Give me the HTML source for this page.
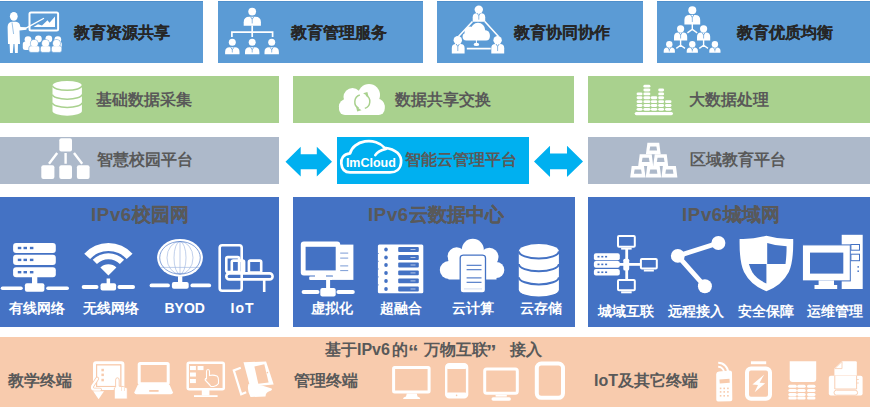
<!DOCTYPE html>
<html><head><meta charset="utf-8">
<style>
html,body{margin:0;padding:0;background:#fff;}
body{width:871px;height:408px;position:relative;overflow:hidden;font-family:"Liberation Sans",sans-serif;}
.b{position:absolute;}
.t{position:absolute;white-space:nowrap;font-weight:bold;line-height:1;-webkit-text-stroke:0.1px currentColor;}
.r1{background:#5B9BD5;top:1px;height:62px;border-top:1px solid #4F8FCB;box-sizing:border-box;}
.r2{background:#A9D18E;top:76px;height:46.5px;}
.r3{background:#ADB9CA;top:137px;height:46.5px;}
.r4{background:#4472C4;top:197px;height:130px;}
.r5{background:#F8CBAD;top:337px;height:70px;}
.k{color:#262626;font-size:16px;}
.g{color:#595959;font-size:16px;-webkit-text-stroke:0;}
.w{color:#fff;font-size:13.6px;-webkit-text-stroke:0;}
.h{color:#595959;font-size:18.5px;}
svg{position:absolute;left:0;top:0;}
</style></head><body>
<div class="b r1" style="left:0;width:203px"></div>
<div class="b r1" style="left:218px;width:205px"></div>
<div class="b r1" style="left:437px;width:206px"></div>
<div class="b r1" style="left:657px;width:213px"></div>
<div class="b r2" style="left:0;width:279px"></div>
<div class="b r2" style="left:293px;width:281px"></div>
<div class="b r2" style="left:588px;width:282px"></div>
<div class="b r3" style="left:0;width:279px"></div>
<div class="b" style="left:336.5px;top:137px;width:192px;height:46.5px;background:#00B0F0"></div>
<div class="b r3" style="left:588px;width:282px"></div>
<div class="b r4" style="left:0;width:279px"></div>
<div class="b r4" style="left:293px;width:282px"></div>
<div class="b r4" style="left:588px;width:282px"></div>
<div class="b r5" style="left:0;width:870px"></div>
<svg width="871" height="408" viewBox="0 0 871 408">
<ellipse cx="13.8" cy="16.3" rx="3.9" ry="4.4" fill="#fff"/>
<path d="M8,44 L7.6,27 Q7.8,22 12,21.8 L16,21.8 Q19.6,22.2 20,25.5 L20.5,27 L26.5,27.2 L26.5,29.8 L19.5,30.5 L20,44 Z" fill="#fff"/>
<path d="M9.6,43 L10,53 L12.8,53 L13.6,43 Z M14.4,43 L15,53 L17.8,53 L18,43 Z" fill="#fff"/>
<line x1="12" y1="22.5" x2="13.6" y2="34" stroke="#5B9BD5" stroke-width="0.6"/>
<line x1="26.5" y1="27.8" x2="43.5" y2="18.5" stroke="#fff" stroke-width="1.4" stroke-linecap="round"/>
<rect x="29.5" y="12.6" width="28.6" height="18" rx="1.5" fill="none" stroke="#fff" stroke-width="2"/>
<path d="M33.5,27 L38,24.2 L42,25.6 L47.5,20.2 L49.5,22.8 L55,16.5 L55,27 Z" fill="#fff"/>
<circle cx="28" cy="39.6" r="3.4" fill="#fff"/>
<circle cx="38.4" cy="39" r="3.4" fill="#fff"/>
<circle cx="48.8" cy="39" r="3.4" fill="#fff"/>
<circle cx="57.8" cy="39.6" r="3.4" fill="#fff"/>
<rect x="22.8" y="41.5" width="8.5" height="8.5" rx="2.5" fill="#fff"/>
<rect x="53.6" y="41.5" width="8.2" height="8.5" rx="2.5" fill="#fff"/>
<circle cx="34.3" cy="43.4" r="3.9" fill="#fff" stroke="#5B9BD5" stroke-width="0.6"/>
<rect x="28.8" y="45.8" width="10.999999999999996" height="6.6" rx="2.2" fill="#fff" stroke="#5B9BD5" stroke-width="0.6"/>
<circle cx="34.3" cy="43.4" r="3.3" fill="#fff"/>
<circle cx="45.55" cy="43.4" r="3.9" fill="#fff" stroke="#5B9BD5" stroke-width="0.6"/>
<rect x="40.3" y="45.8" width="10.5" height="6.6" rx="2.2" fill="#fff" stroke="#5B9BD5" stroke-width="0.6"/>
<circle cx="45.55" cy="43.4" r="3.3" fill="#fff"/>
<circle cx="56.55" cy="43.4" r="3.9" fill="#fff" stroke="#5B9BD5" stroke-width="0.6"/>
<rect x="51.3" y="45.8" width="10.5" height="6.6" rx="2.2" fill="#fff" stroke="#5B9BD5" stroke-width="0.6"/>
<circle cx="56.55" cy="43.4" r="3.3" fill="#fff"/>
<circle cx="252.2" cy="11.6" r="3.9" fill="#fff"/>
<path d="M243.7,25.7 L243.7,22.304 Q243.7,16.8 249.20399999999998,16.8 L255.396,16.8 Q260.9,16.8 260.9,22.304 L260.9,25.7 Z" fill="#fff"/>
<path d="M250.6,16.8 L252.2,19.2 L253.79999999999998,16.8" fill="none" stroke="#5B9BD5" stroke-width="0.8"/>
<line x1="252.2" y1="19.2" x2="252.2" y2="23.475" stroke="#5B9BD5" stroke-width="0.7"/>
<path d="M252.2,25.5 V37 M231.9,37 V32.2 H272.6 V37" fill="none" stroke="#fff" stroke-width="1.7"/>
<circle cx="232.3" cy="42.3" r="3.5" fill="#fff"/>
<path d="M225.10000000000002,54.2 L225.10000000000002,51.90799999999999 Q225.10000000000002,47.3 229.70800000000003,47.3 L234.892,47.3 Q239.5,47.3 239.5,51.90799999999999 L239.5,54.2 Z" fill="#fff"/>
<path d="M230.70000000000002,47.3 L232.3,49.699999999999996 L233.9,47.3" fill="none" stroke="#5B9BD5" stroke-width="0.8"/>
<line x1="232.3" y1="49.699999999999996" x2="232.3" y2="52.475" stroke="#5B9BD5" stroke-width="0.7"/>
<circle cx="252.2" cy="42.3" r="3.5" fill="#fff"/>
<path d="M245.0,54.2 L245.0,51.90799999999999 Q245.0,47.3 249.608,47.3 L254.79199999999997,47.3 Q259.4,47.3 259.4,51.90799999999999 L259.4,54.2 Z" fill="#fff"/>
<path d="M250.6,47.3 L252.2,49.699999999999996 L253.79999999999998,47.3" fill="none" stroke="#5B9BD5" stroke-width="0.8"/>
<line x1="252.2" y1="49.699999999999996" x2="252.2" y2="52.475" stroke="#5B9BD5" stroke-width="0.7"/>
<circle cx="271.7" cy="42.3" r="3.5" fill="#fff"/>
<path d="M264.5,54.2 L264.5,51.90799999999999 Q264.5,47.3 269.108,47.3 L274.292,47.3 Q278.9,47.3 278.9,51.90799999999999 L278.9,54.2 Z" fill="#fff"/>
<path d="M270.09999999999997,47.3 L271.7,49.699999999999996 L273.3,47.3" fill="none" stroke="#5B9BD5" stroke-width="0.8"/>
<line x1="271.7" y1="49.699999999999996" x2="271.7" y2="52.475" stroke="#5B9BD5" stroke-width="0.7"/>
<path d="M472.5,21.5 L458.5,36.5 M484.8,21.5 L498.5,36.5 M466.8,48.6 H490.8" stroke="#fff" stroke-width="1.6" fill="none"/>
<circle cx="478.8" cy="9.6" r="4.2" fill="#fff"/>
<path d="M472.7,21.8 L472.7,17.2 Q472.7,13.2 476.7,13.2 L481.2,13.2 Q485.2,13.2 485.2,17.2 L485.2,21.8 Z" fill="#fff"/>
<path d="M477.2,13.2 L478.8,15.6 L480.40000000000003,13.2" fill="none" stroke="#5B9BD5" stroke-width="0.8"/>
<line x1="478.8" y1="15.6" x2="478.8" y2="19.65" stroke="#5B9BD5" stroke-width="0.7"/>
<circle cx="457.8" cy="40.3" r="4.2" fill="#fff"/>
<path d="M451.8,53.4 L451.8,48.096000000000004 Q451.8,44 455.896,44 L460.504,44 Q464.6,44 464.6,48.096000000000004 L464.6,53.4 Z" fill="#fff"/>
<path d="M456.2,44 L457.8,46.4 L459.40000000000003,44" fill="none" stroke="#5B9BD5" stroke-width="0.8"/>
<line x1="457.8" y1="46.4" x2="457.8" y2="51.05" stroke="#5B9BD5" stroke-width="0.7"/>
<circle cx="497.6" cy="40.3" r="4.2" fill="#fff"/>
<path d="M491.3,53.4 L491.3,48.12799999999999 Q491.3,44 495.428,44 L500.072,44 Q504.2,44 504.2,48.12799999999999 L504.2,53.4 Z" fill="#fff"/>
<path d="M496.0,44 L497.6,46.4 L499.20000000000005,44" fill="none" stroke="#5B9BD5" stroke-width="0.8"/>
<line x1="497.6" y1="46.4" x2="497.6" y2="51.05" stroke="#5B9BD5" stroke-width="0.7"/>
<g fill="#fff"><circle cx="470" cy="32" r="5.5"/><circle cx="478" cy="30" r="7.2"/><circle cx="485" cy="35" r="4.8"/><rect x="462.6" y="33" width="27.2" height="7.4" rx="3.7"/></g>
<line x1="476.4" y1="40" x2="476.4" y2="43" stroke="#fff" stroke-width="1"/>
<ellipse cx="476.4" cy="44.4" rx="2.8" ry="1.6" fill="#fff"/>
<path d="M692.3,24 V29.4 L687.4,32.8 M692.3,29.4 L697.2,32.8" stroke="#fff" stroke-width="1.4" fill="none"/>
<path d="M680.6,40 V45.2 L676.3,48.4 M680.6,45.2 L685,48.4 M703.6,40 V45.2 L699.3,48.4 M703.6,45.2 L708,48.4" stroke="#fff" stroke-width="1.4" fill="none"/>
<circle cx="692.3" cy="10.3" r="4.0" fill="#fff"/>
<path d="M684.4,24.4 L684.4,20.056000000000022 Q684.4,15 689.456,15 L695.144,15 Q700.2,15 700.2,20.056000000000022 L700.2,24.4 Z" fill="#fff"/>
<path d="M690.6999999999999,15 L692.3,17.4 L693.9,15" fill="none" stroke="#5B9BD5" stroke-width="0.8"/>
<line x1="692.3" y1="17.4" x2="692.3" y2="22.049999999999997" stroke="#5B9BD5" stroke-width="0.7"/>
<circle cx="680.6" cy="28.8" r="3.6" fill="#fff"/>
<path d="M674,40.5 L674,36.72400000000002 Q674,32.5 678.224,32.5 L682.976,32.5 Q687.2,32.5 687.2,36.72400000000002 L687.2,40.5 Z" fill="#fff"/>
<path d="M679.0,32.5 L680.6,34.9 L682.2,32.5" fill="none" stroke="#5B9BD5" stroke-width="0.8"/>
<line x1="680.6" y1="34.9" x2="680.6" y2="38.5" stroke="#5B9BD5" stroke-width="0.7"/>
<circle cx="703.6" cy="28.8" r="3.6" fill="#fff"/>
<path d="M697,40.5 L697,36.72400000000002 Q697,32.5 701.224,32.5 L705.976,32.5 Q710.2,32.5 710.2,36.72400000000002 L710.2,40.5 Z" fill="#fff"/>
<path d="M702.0,32.5 L703.6,34.9 L705.2,32.5" fill="none" stroke="#5B9BD5" stroke-width="0.8"/>
<line x1="703.6" y1="34.9" x2="703.6" y2="38.5" stroke="#5B9BD5" stroke-width="0.7"/>
<circle cx="669.3" cy="44.2" r="3.2" fill="#fff"/>
<path d="M663.6999999999999,52.8 L663.6999999999999,50.984000000000016 Q663.6999999999999,47.4 667.284,47.4 L671.3159999999999,47.4 Q674.9,47.4 674.9,50.984000000000016 L674.9,52.8 Z" fill="#fff"/>
<path d="M667.6999999999999,47.4 L669.3,49.8 L670.9,47.4" fill="none" stroke="#5B9BD5" stroke-width="0.8"/>
<line x1="669.3" y1="49.8" x2="669.3" y2="51.449999999999996" stroke="#5B9BD5" stroke-width="0.7"/>
<circle cx="692.3" cy="44.2" r="3.2" fill="#fff"/>
<path d="M686.6999999999999,52.8 L686.6999999999999,50.984000000000016 Q686.6999999999999,47.4 690.284,47.4 L694.3159999999999,47.4 Q697.9,47.4 697.9,50.984000000000016 L697.9,52.8 Z" fill="#fff"/>
<path d="M690.6999999999999,47.4 L692.3,49.8 L693.9,47.4" fill="none" stroke="#5B9BD5" stroke-width="0.8"/>
<line x1="692.3" y1="49.8" x2="692.3" y2="51.449999999999996" stroke="#5B9BD5" stroke-width="0.7"/>
<circle cx="714.9" cy="44.2" r="3.2" fill="#fff"/>
<path d="M709.3,52.8 L709.3,50.984000000000016 Q709.3,47.4 712.884,47.4 L716.9159999999999,47.4 Q720.5,47.4 720.5,50.984000000000016 L720.5,52.8 Z" fill="#fff"/>
<path d="M713.3,47.4 L714.9,49.8 L716.5,47.4" fill="none" stroke="#5B9BD5" stroke-width="0.8"/>
<line x1="714.9" y1="49.8" x2="714.9" y2="51.449999999999996" stroke="#5B9BD5" stroke-width="0.7"/>
<path d="M52.5,85.6 A14.7,4.7 0 0 1 81.9,85.6 V111 A14.7,4.7 0 0 1 52.5,111 Z" fill="#fff"/>
<path d="M52.5,85.6 A14.7,4.7 0 0 0 81.9,85.6" fill="none" stroke="#A9D18E" stroke-width="1.5"/>
<path d="M52.5,94.5 A14.7,4.7 0 0 0 81.9,94.5" fill="none" stroke="#A9D18E" stroke-width="1.5"/>
<path d="M52.5,102.7 A14.7,4.7 0 0 0 81.9,102.7" fill="none" stroke="#A9D18E" stroke-width="1.5"/>
<g fill="#fff"><circle cx="352.5" cy="97" r="9"/><circle cx="369" cy="95" r="11"/><circle cx="377.5" cy="106" r="7.2"/><circle cx="346.5" cy="106.5" r="7.6"/><rect x="339" y="101" width="45.7" height="13.9" rx="6"/></g>
<path d="M359.8,95 A7.2,7.2 0 0 0 358.6,108.2" fill="none" stroke="#A9D18E" stroke-width="1.5"/>
<path d="M364.8,108.4 A7.2,7.2 0 0 0 366,95.2" fill="none" stroke="#A9D18E" stroke-width="1.5"/>
<path d="M356,106.5 L361.5,110.2 L357.2,111.5 Z" fill="#A9D18E"/>
<path d="M368.6,96.8 L363.1,93.2 L367.4,92 Z" fill="#A9D18E"/>
<g fill="#fff">
<rect x="636.6" y="92.44" width="5.90" height="2.9" rx="1.45"/>
<rect x="636.6" y="96.31" width="5.90" height="2.9" rx="1.45"/>
<rect x="636.6" y="100.18" width="5.90" height="2.9" rx="1.45"/>
<rect x="636.6" y="104.05" width="5.90" height="2.9" rx="1.45"/>
<rect x="636.6" y="107.92" width="5.90" height="2.9" rx="1.45"/>
<rect x="643.4000000000001" y="84.70" width="7.00" height="2.9" rx="1.45"/>
<rect x="643.4000000000001" y="88.57" width="7.00" height="2.9" rx="1.45"/>
<rect x="643.4000000000001" y="92.44" width="7.00" height="2.9" rx="1.45"/>
<rect x="643.4000000000001" y="96.31" width="7.00" height="2.9" rx="1.45"/>
<rect x="643.4000000000001" y="100.18" width="7.00" height="2.9" rx="1.45"/>
<rect x="643.4000000000001" y="104.05" width="7.00" height="2.9" rx="1.45"/>
<rect x="643.4000000000001" y="107.92" width="7.00" height="2.9" rx="1.45"/>
<rect x="650.8000000000001" y="96.31" width="6.50" height="2.9" rx="1.45"/>
<rect x="650.8000000000001" y="100.18" width="6.50" height="2.9" rx="1.45"/>
<rect x="650.8000000000001" y="104.05" width="6.50" height="2.9" rx="1.45"/>
<rect x="650.8000000000001" y="107.92" width="6.50" height="2.9" rx="1.45"/>
<rect x="658.2" y="88.57" width="5.90" height="2.9" rx="1.45"/>
<rect x="658.2" y="92.44" width="5.90" height="2.9" rx="1.45"/>
<rect x="658.2" y="96.31" width="5.90" height="2.9" rx="1.45"/>
<rect x="658.2" y="100.18" width="5.90" height="2.9" rx="1.45"/>
<rect x="658.2" y="104.05" width="5.90" height="2.9" rx="1.45"/>
<rect x="658.2" y="107.92" width="5.90" height="2.9" rx="1.45"/>
<rect x="665.0" y="100.18" width="6.50" height="2.9" rx="1.45"/>
<rect x="665.0" y="104.05" width="6.50" height="2.9" rx="1.45"/>
<rect x="665.0" y="107.92" width="6.50" height="2.9" rx="1.45"/>
<rect x="634.7" y="111.9" width="38.3" height="3.4" rx="1.7"/>
</g>
<g fill="#fff"><rect x="59.3" y="138.3" width="12.7" height="13.3" rx="2"/><rect x="41.3" y="165.3" width="13.1" height="13.7" rx="2"/><rect x="59.3" y="165.3" width="12.7" height="13.7" rx="2"/><rect x="76.9" y="165.3" width="12.7" height="13.7" rx="2"/></g>
<path d="M57.2,153 L49,163.8 M65.6,153 V163.8 M74,153 L82.2,163.8" stroke="#fff" stroke-width="2.4" fill="none"/>
<path d="M285.5,161.70000000000002 L300.7,146.8 V154.25000000000003 H316.8 V146.8 L332.0,161.70000000000002 L316.8,176.60000000000002 V169.15 H300.7 V176.60000000000002 Z" fill="#00B0F0"/>
<path d="M534,161.4 L550.0172043010753,145.8 V153.6 H566.9827956989247 V145.8 L583,161.4 L566.9827956989247,177.0 V169.20000000000002 H550.0172043010753 V177.0 Z" fill="#00B0F0"/>
<path d="M384.6,147.8 A19,15 0 0 0 350.1,153.4 C343,154 340.8,159 341.3,163.5 C341.8,169 345,172.4 350,172.4 H390 C396,172.4 400.5,169 401,163 C402,155 396,149 384.6,147.8 Z" fill="none" stroke="#fff" stroke-width="2.7" stroke-linejoin="round"/>
<path d="M375.3,155.2 Q378,150.6 386,149" fill="none" stroke="#fff" stroke-width="2.6" stroke-linecap="round"/>
<path d="M645.9,154.3 L647.4,142.8 H659.2 L660.7,154.3 Z" fill="#fff"/>
<path d="M649.496,150.60000000000002 L650.1959999999999,146.4 H656.4040000000001 L657.104,150.60000000000002 Z" fill="#ADB9CA"/>
<path d="M638.2,166 L639.7,154.2 H651.7 L653.2,166 Z" fill="#fff"/>
<path d="M641.85,162.0 L642.55,157.79999999999998 H648.8500000000001 L649.5500000000001,162.0 Z" fill="#ADB9CA"/>
<path d="M653.2,166 L654.7,154.2 H666.7 L668.2,166 Z" fill="#fff"/>
<path d="M656.85,162.0 L657.55,157.79999999999998 H663.8500000000001 L664.5500000000001,162.0 Z" fill="#ADB9CA"/>
<path d="M630.2,177.4 L631.7,166 H644.0 L645.5,177.4 Z" fill="#fff"/>
<path d="M633.931,173.8 L634.631,169.6 H641.0690000000001 L641.769,173.8 Z" fill="#ADB9CA"/>
<path d="M645.7,177.4 L647.2,166 H659.7 L661.2,177.4 Z" fill="#fff"/>
<path d="M649.485,173.8 L650.185,169.6 H656.7150000000001 L657.4150000000001,173.8 Z" fill="#ADB9CA"/>
<path d="M661.4,177.4 L662.9,166 H675.9 L677.4,177.4 Z" fill="#fff"/>
<path d="M665.32,173.8 L666.02,169.6 H672.78 L673.4799999999999,173.8 Z" fill="#ADB9CA"/>
<rect x="13.1" y="243" width="42.7" height="10" rx="3" fill="#fff"/>
<rect x="17.8" y="246.8" width="3.5" height="2.4" fill="#4472C4"/>
<rect x="23.5" y="246.8" width="3.5" height="2.4" fill="#4472C4"/>
<rect x="29.9" y="246.8" width="3.5" height="2.4" fill="#4472C4"/>
<rect x="13.1" y="254.8" width="42.7" height="10.199999999999989" rx="3" fill="#fff"/>
<rect x="17.8" y="258.7" width="3.5" height="2.4" fill="#4472C4"/>
<rect x="23.5" y="258.7" width="3.5" height="2.4" fill="#4472C4"/>
<rect x="29.9" y="258.7" width="3.5" height="2.4" fill="#4472C4"/>
<rect x="13.1" y="267.2" width="42.7" height="10.0" rx="3" fill="#fff"/>
<rect x="17.8" y="271.0" width="3.5" height="2.4" fill="#4472C4"/>
<rect x="23.5" y="271.0" width="3.5" height="2.4" fill="#4472C4"/>
<rect x="29.9" y="271.0" width="3.5" height="2.4" fill="#4472C4"/>
<rect x="32" y="277" width="5.299999999999997" height="7.199999999999989" fill="#fff"/>
<rect x="24.9" y="283.2" width="19.5" height="8.600000000000023" rx="2" fill="#fff"/>
<line x1="2.5" y1="288.2" x2="21.0" y2="288.2" stroke="#fff" stroke-width="3.6" stroke-linecap="round"/>
<line x1="48.0" y1="288.2" x2="67.2" y2="288.2" stroke="#fff" stroke-width="3.6" stroke-linecap="round"/>
<path d="M84.25,253.75 A32.5,32.5 0 0 1 132.55,253.75 L126.68,259.04 A24.6,24.6 0 0 0 90.12,259.04 Z M92.70,259.80 A22.2,22.2 0 0 1 124.10,259.80 L119.86,264.04 A16.2,16.2 0 0 0 96.94,264.04 Z" fill="#fff"/>
<path d="M108.4,275.5 L100.4,267.5 A11.3,11.3 0 0 1 116.4,267.5 Z" fill="#fff"/>
<rect x="106.6" y="278.5" width="3.5" height="5.699999999999989" fill="#fff"/>
<rect x="100.5" y="283.2" width="15.599999999999994" height="7.400000000000034" rx="2" fill="#fff"/>
<line x1="83.60000000000001" y1="287" x2="96.6" y2="287" stroke="#fff" stroke-width="3.8" stroke-linecap="round"/>
<line x1="119.4" y1="287" x2="133.1" y2="287" stroke="#fff" stroke-width="3.8" stroke-linecap="round"/>
<ellipse cx="180" cy="257.8" rx="22.9" ry="18.9" fill="#fff"/>
<ellipse cx="180" cy="257.8" rx="20.3" ry="16.3" fill="none" stroke="#4472C4" stroke-width="0.8" opacity="0.8"/>
<g fill="none" stroke="#4472C4" stroke-width="0.6" opacity="0.55"><ellipse cx="180" cy="257.8" rx="6" ry="16.3"/><ellipse cx="180" cy="257.8" rx="13" ry="16.3"/><line x1="180" y1="241.5" x2="180" y2="274"/><line x1="160.5" y1="267.4" x2="199.5" y2="267.4"/></g>
<rect x="178" y="276.2" width="4.300000000000011" height="6.800000000000011" fill="#fff"/>
<rect x="171.9" y="282" width="16.799999999999983" height="6.800000000000011" rx="2" fill="#fff"/>
<line x1="151.5" y1="285.4" x2="168.0" y2="285.4" stroke="#fff" stroke-width="3.8" stroke-linecap="round"/>
<line x1="192.3" y1="285.4" x2="209.2" y2="285.4" stroke="#fff" stroke-width="3.8" stroke-linecap="round"/>
<g fill="none" stroke="#fff" stroke-width="2.6"><rect x="219.7" y="245.3" width="22" height="45.5" rx="2.5"/><rect x="226.3" y="257.1" width="12.8" height="15" rx="1.5"/><rect x="231.8" y="260.6" width="12.3" height="12" rx="1.5"/><rect x="248.9" y="260.6" width="12.3" height="12" rx="1.5"/><rect x="226.3" y="273.4" width="46.3" height="6" rx="3"/></g>
<line x1="264.2" y1="280" x2="264.2" y2="292" stroke="#fff" stroke-width="2.6"/>
<rect x="332.8" y="244.6" width="20.6" height="35.3" fill="#fff"/>
<g stroke="#4472C4" stroke-width="1" opacity="0.7"><line x1="339.4" y1="253.1" x2="348.2" y2="253.1"/><line x1="339.4" y1="258.1" x2="348.2" y2="258.1"/><line x1="339.4" y1="265.9" x2="348.2" y2="265.9"/><line x1="339.4" y1="270.6" x2="348.2" y2="270.6"/></g>
<rect x="300.8" y="241.6" width="39.4" height="34" rx="3" fill="#fff" stroke="#4472C4" stroke-width="0" />
<rect x="305.6" y="246.8" width="30.1" height="23.6" fill="#4472C4"/>
<rect x="315" y="274.5" width="11" height="2.5" fill="#fff"/><rect x="309.2" y="276.5" width="24" height="3.4" rx="1" fill="#fff"/>
<rect x="326.1" y="279.5" width="4.0" height="9.5" fill="#fff"/>
<rect x="320.3" y="288" width="15.399999999999977" height="8.600000000000023" rx="2" fill="#fff"/>
<line x1="303.6" y1="292" x2="317.5" y2="292" stroke="#fff" stroke-width="4" stroke-linecap="round"/>
<line x1="338.4" y1="292" x2="352.8" y2="292" stroke="#fff" stroke-width="4" stroke-linecap="round"/>
<rect x="377.9" y="244.6" width="45.4" height="48.6" rx="1.5" fill="#fff"/>
<ellipse cx="386" cy="249.5" rx="1.8" ry="2" fill="#4472C4"/>
<rect x="398.2" y="247.1" width="20.6" height="4.8" rx="1" fill="#4472C4"/>
<rect x="410.5" y="249.0" width="5" height="1" fill="#fff" opacity="0.6"/>
<ellipse cx="386" cy="257.5" rx="1.8" ry="2" fill="#4472C4"/>
<rect x="398.2" y="255.1" width="20.6" height="4.8" rx="1" fill="#4472C4"/>
<rect x="410.5" y="257.0" width="5" height="1" fill="#fff" opacity="0.6"/>
<ellipse cx="386" cy="265" rx="1.8" ry="2" fill="#4472C4"/>
<rect x="398.2" y="262.6" width="20.6" height="4.8" rx="1" fill="#4472C4"/>
<rect x="410.5" y="264.5" width="5" height="1" fill="#fff" opacity="0.6"/>
<ellipse cx="386" cy="272.9" rx="1.8" ry="2" fill="#4472C4"/>
<rect x="398.2" y="270.5" width="20.6" height="4.8" rx="1" fill="#4472C4"/>
<rect x="410.5" y="272.4" width="5" height="1" fill="#fff" opacity="0.6"/>
<ellipse cx="386" cy="280.9" rx="1.8" ry="2" fill="#4472C4"/>
<rect x="398.2" y="278.5" width="20.6" height="4.8" rx="1" fill="#4472C4"/>
<rect x="410.5" y="280.4" width="5" height="1" fill="#fff" opacity="0.6"/>
<ellipse cx="386" cy="289" rx="1.8" ry="2" fill="#4472C4"/>
<rect x="398.2" y="286.6" width="20.6" height="4.8" rx="1" fill="#4472C4"/>
<rect x="410.5" y="288.5" width="5" height="1" fill="#fff" opacity="0.6"/>
<line x1="377.9" y1="253.5" x2="378.6" y2="253.5" stroke="#4472C4" stroke-width="1"/>
<line x1="377.9" y1="261.3" x2="378.6" y2="261.3" stroke="#4472C4" stroke-width="1"/>
<line x1="377.9" y1="269" x2="378.6" y2="269" stroke="#4472C4" stroke-width="1"/>
<line x1="377.9" y1="276.9" x2="378.6" y2="276.9" stroke="#4472C4" stroke-width="1"/>
<line x1="377.9" y1="284.9" x2="378.6" y2="284.9" stroke="#4472C4" stroke-width="1"/>
<g fill="#fff"><circle cx="472.8" cy="249.7" r="11"/><circle cx="456.6" cy="256.3" r="9"/><circle cx="489.3" cy="257" r="9.2"/><circle cx="448.8" cy="270" r="9"/><circle cx="496.2" cy="270" r="8.1"/><rect x="448.5" y="258" width="48" height="21.5"/></g>
<rect x="460.2" y="255.1" width="25.3" height="37.8" rx="3" fill="#fff" stroke="#4472C4" stroke-width="1.3"/>
<g stroke="#4472C4" stroke-width="1.1"><line x1="466.6" y1="265.3" x2="481.5" y2="265.3"/><line x1="466.6" y1="269.7" x2="481.5" y2="269.7"/><line x1="466.6" y1="277.9" x2="481.5" y2="277.9"/><line x1="466.6" y1="282.3" x2="481.5" y2="282.3"/></g>
<line x1="464" y1="288.9" x2="482" y2="288.9" stroke="#4472C4" stroke-width="0.8" opacity="0.3"/>
<path d="M518.8,251.3 A20.05,7.2 0 0 1 558.9,251.3 V289.4 A20.05,7.2 0 0 1 518.8,289.4 Z" fill="#fff"/>
<path d="M518.8,251.3 A20.05,7.2 0 0 0 558.9,251.3" fill="none" stroke="#4472C4" stroke-width="2"/>
<path d="M518.8,264 A20.05,7.2 0 0 0 558.9,264" fill="none" stroke="#4472C4" stroke-width="2"/>
<path d="M518.8,277.2 A20.05,7.2 0 0 0 558.9,277.2" fill="none" stroke="#4472C4" stroke-width="2"/>
<rect x="625.3" y="249" width="2.8" height="30.5" fill="#fff"/>
<rect x="619" y="263" width="21" height="2.8" fill="#fff"/>
<rect x="623.3" y="258.7" width="5.9" height="11.7" rx="1.5" fill="#fff"/>
<rect x="618" y="236.1" width="16.799999999999955" height="10.599999999999994" rx="1" fill="none" stroke="#fff" stroke-width="2"/>
<rect x="621.136" y="247.7" width="10.527999999999976" height="1.9" fill="#fff"/>
<rect x="640.9" y="258.9" width="15.899999999999977" height="9.700000000000045" rx="1" fill="none" stroke="#fff" stroke-width="2"/>
<rect x="643.838" y="269.6" width="10.023999999999988" height="1.9" fill="#fff"/>
<rect x="618" y="280" width="16.799999999999955" height="10.300000000000011" rx="1" fill="none" stroke="#fff" stroke-width="2"/>
<rect x="621.136" y="291.3" width="10.527999999999976" height="2" fill="#fff"/>
<rect x="593.9" y="253.2" width="25.9" height="7.0" rx="2" fill="#fff"/>
<rect x="597.5" y="255.89999999999998" width="2" height="1.6" fill="#4472C4"/>
<rect x="601.3" y="255.89999999999998" width="2" height="1.6" fill="#4472C4"/>
<rect x="605.1" y="255.89999999999998" width="2" height="1.6" fill="#4472C4"/>
<rect x="593.9" y="261" width="25.9" height="6.800000000000011" rx="2" fill="#fff"/>
<rect x="597.5" y="263.59999999999997" width="2" height="1.6" fill="#4472C4"/>
<rect x="601.3" y="263.59999999999997" width="2" height="1.6" fill="#4472C4"/>
<rect x="605.1" y="263.59999999999997" width="2" height="1.6" fill="#4472C4"/>
<rect x="593.9" y="268.9" width="25.9" height="6.7000000000000455" rx="2" fill="#fff"/>
<rect x="597.5" y="271.45" width="2" height="1.6" fill="#4472C4"/>
<rect x="601.3" y="271.45" width="2" height="1.6" fill="#4472C4"/>
<rect x="605.1" y="271.45" width="2" height="1.6" fill="#4472C4"/>
<path d="M718.4,243 L677.8,255.9 L704.9,286.3" fill="none" stroke="#fff" stroke-width="4.8"/>
<g fill="#fff"><circle cx="677.8" cy="255.9" r="6.9"/><circle cx="718.4" cy="243" r="7"/><circle cx="704.9" cy="286.3" r="7"/></g>
<path d="M766.4,235.7 Q753,239.5 739.6,238.9 Q739.2,262 744,272 Q751,285.5 766.4,291.2 Q781.8,285.5 788.8,272 Q793.6,262 793.2,238.9 Q779.8,239.5 766.4,235.7 Z" fill="#fff"/>
<path d="M767.2,242.9 Q777,246.2 786.6,246.2 Q786.6,256 785.5,264 H767.2 Z" fill="#4472C4"/>
<path d="M748.9,264 H766.4 V283.4 Q756.5,279 752.5,272.5 Q750,268 748.9,264 Z" fill="#4472C4"/>
<rect x="841.7" y="234.8" width="21" height="54.2" fill="#fff"/>
<g fill="none" stroke="#4472C4" stroke-width="1"><rect x="850.9" y="244.5" width="8.6" height="5.7"/><rect x="850.9" y="254.2" width="8.6" height="6.5"/></g>
<g fill="#4472C4"><rect x="857.4" y="266.2" width="1.6" height="1.4"/><rect x="857.4" y="270.5" width="1.6" height="1.4"/></g>
<rect x="802.4" y="244.9" width="47.9" height="36" fill="#fff" stroke="#4472C4" stroke-width="1"/>
<rect x="810" y="252.6" width="33.3" height="21" fill="#4472C4"/>
<rect x="818.6" y="280.4" width="15.4" height="5" fill="#fff"/><rect x="814.5" y="285" width="22.7" height="4" fill="#fff"/>
<rect x="94.5" y="362.8" width="28.4" height="25.8" rx="1.5" fill="none" stroke="#fff" stroke-width="3"/>
<rect x="96.6" y="364.9" width="24.2" height="21.6" fill="none" stroke="#F8CBAD" stroke-width="0.7"/>
<rect x="97.2" y="365.5" width="23" height="20.4" fill="#fff"/>
<g fill="#F8CBAD"><rect x="101.4" y="368.8" width="2.5" height="2.5"/><rect x="101.4" y="373.6" width="2.5" height="2.5"/><rect x="101.4" y="378.8" width="2.5" height="2.5"/></g>
<path d="M97.2,378.6 L92.2,386.2 Q91.2,389.6 94.6,389.6 H100" fill="none" stroke="#F8CBAD" stroke-width="3.8" stroke-linecap="round" stroke-linejoin="round"/>
<path d="M97.2,378.6 L92.2,386.2 Q91.2,389.6 94.6,389.6 H100" fill="none" stroke="#fff" stroke-width="2.2" stroke-linecap="round" stroke-linejoin="round"/>
<path d="M93.2,391.2 H104 L98.6,399.2 Z" fill="#fff"/>
<path d="M114.3,399 V389 Q114.3,387.5 115.6,387 V380 Q115.6,377.8 117.4,377.8 Q119.2,377.8 119.2,380 V386.2 Q123.5,386 127.3,388 V399 Z" fill="#fff" stroke="#F8CBAD" stroke-width="0.9"/>
<g stroke="#F8CBAD" stroke-width="0.5"><line x1="121.5" y1="387" x2="121.5" y2="391"/><line x1="124.5" y1="387.6" x2="124.5" y2="391"/></g>
<rect x="139.2" y="363.6" width="29" height="20.2" rx="1" fill="none" stroke="#fff" stroke-width="3"/>
<path d="M137.7,385 H169.7 L172.9,392.2 Q172.9,394.2 171,394.2 H136.4 Q134.4,394.2 134.4,392.2 Z" fill="#fff"/>
<rect x="149.2" y="390" width="9.4" height="1.8" fill="#F8CBAD"/>
<rect x="187.7" y="362.8" width="36.1" height="26.4" rx="1.5" fill="none" stroke="#fff" stroke-width="2.5"/>
<rect x="201.8" y="390" width="7.6" height="5.4" fill="#fff"/><rect x="194" y="395.2" width="23.6" height="1.8" fill="#fff"/>
<g fill="#fff"><rect x="190" y="366" width="5.9" height="4.1"/><rect x="197.6" y="366" width="5.9" height="4.1"/><rect x="190" y="372.5" width="5.9" height="4.1"/><rect x="190" y="379" width="5.9" height="4.1"/></g>
<path d="M206.5,371.5 Q206.5,369.5 208,369.5 Q209.5,369.5 209.5,371.5 V375.5 Q213,374.5 217,376 Q218.5,377 218.5,380 V383.5 Q217,386 213.5,386.5 L211,386.5 Q209,384 206.5,381.5 Q204.5,380 205.5,378.5 Q206,378 206.5,378.5 Z" fill="none" stroke="#fff" stroke-width="1.1"/>
<path d="M240.8,367.7 L233.8,370.4 L241.2,394.2 L246.2,392.3" fill="none" stroke="#fff" stroke-width="2.2"/>
<path d="M243.5,362.3 L266.1,361.5 L273.7,384.4 L250,386.6 Z" fill="#fff"/>
<path d="M254.4,366.6 L264.3,364.3 L268.6,382.6 L258.3,383.7 Z" fill="#F8CBAD"/>
<circle cx="267.4" cy="372.6" r="0.8" fill="#F8CBAD"/>
<path d="M248.5,384 Q246.6,390 250.5,397 L265.5,396.5 Q265.8,392.5 268.8,391.6 Q273.2,390.2 271.6,388.4 L262,385.5 Z" fill="#fff"/>
<rect x="393.6" y="367.5" width="35.5" height="24.4" rx="1" fill="none" stroke="#fff" stroke-width="3"/>
<path d="M406.8,393.6 H416.8 L417.5,396.4 Q420.3,397 420.3,399 H403 Q403,397 406,396.4 Z" fill="#fff"/>
<rect x="446.2" y="364.2" width="20.9" height="33.2" rx="3" fill="none" stroke="#fff" stroke-width="2.4"/>
<rect x="446" y="364" width="21" height="5" rx="2" fill="#fff"/><rect x="446" y="392.5" width="21" height="5" rx="2" fill="#fff"/>
<circle cx="456.6" cy="395.4" r="0.8" fill="#F8CBAD"/>
<rect x="484.7" y="368.9" width="32.6" height="24.4" rx="2" fill="none" stroke="#fff" stroke-width="3"/>
<rect x="495.6" y="394.8" width="11.2" height="1.8" fill="#fff"/><rect x="491.5" y="397.2" width="19.4" height="3.5" rx="1.7" fill="#fff"/>
<rect x="536.8" y="363.6" width="26.2" height="34.2" rx="4.5" fill="none" stroke="#fff" stroke-width="4"/>
<path d="M716.2,374 Q716.4,371.6 719,371.4 L729.5,370.4 Q732,370.4 732,372.6 L732.3,399.5 Q732.3,401.2 730.5,401.3 L718,401.5 Q716.3,401.5 716.3,399.8 Z" fill="#fff"/>
<rect x="719.6" y="379.2" width="10" height="4" fill="#F8CBAD" transform="rotate(-4 724 381)"/>
<g fill="#F8CBAD"><rect x="719.8" y="387.6" width="1.6" height="1.6"/><rect x="719.8" y="391.1" width="1.6" height="1.6"/><rect x="719.8" y="395" width="1.6" height="1.6"/><rect x="723.4" y="387.6" width="1.6" height="1.6"/><rect x="723.4" y="391.1" width="1.6" height="1.6"/><rect x="723.4" y="395" width="1.6" height="1.6"/><rect x="727.1" y="387.6" width="1.6" height="1.6"/><rect x="727.1" y="391.1" width="1.6" height="1.6"/><rect x="727.1" y="395" width="1.6" height="1.6"/></g>
<path d="M718.2,366.8 A6,6 0 0 1 724.2,372.8 M718.2,362.8 A10,10 0 0 1 728.2,372.8" fill="none" stroke="#fff" stroke-width="1.9"/>
<rect x="747" y="368.6" width="23" height="30.1" rx="4" fill="none" stroke="#fff" stroke-width="4"/>
<rect x="750.9" y="361.3" width="15.3" height="2.9" fill="#fff"/>
<path d="M764.2,374.5 L752.4,384.6 L758,385 L754.6,392.3 L765.2,383.2 L759.6,382.8 Z" fill="#fff"/>
<path d="M789.7,361.3 H816.2 V379 Q816.2,381.9 813.3,381.9 H792.6 Q789.7,381.9 789.7,379 Z" fill="#fff"/>
<g fill="#fff"><rect x="788.3" y="384.8" width="8.5" height="3" rx="1.5"/><rect x="788.3" y="388.9" width="8.5" height="3" rx="1.5"/><rect x="788.3" y="393" width="8.5" height="3" rx="1.5"/><rect x="788.3" y="396.6" width="8.5" height="3" rx="1.5"/><rect x="797.2" y="384.8" width="8.5" height="3" rx="1.5"/><rect x="797.2" y="388.9" width="8.5" height="3" rx="1.5"/><rect x="797.2" y="393" width="8.5" height="3" rx="1.5"/><rect x="797.2" y="396.6" width="8.5" height="3" rx="1.5"/><rect x="807" y="384.8" width="8.5" height="3" rx="1.5"/><rect x="807" y="388.9" width="8.5" height="3" rx="1.5"/><rect x="807" y="393" width="8.5" height="3" rx="1.5"/><rect x="807" y="396.6" width="8.5" height="3" rx="1.5"/></g>
<path d="M842,361.3 H855.8 Q856.8,361.3 856.8,362.3 V375.5 H834.4 V368.6 Z" fill="#fff"/>
<path d="M834.8,368.6 L842,361.6 V368.6 Z" fill="#fff" stroke="#F8CBAD" stroke-width="0.8" stroke-linejoin="round"/>
<rect x="828.8" y="375.8" width="33.8" height="19.6" rx="2" fill="#fff"/>
<g fill="none" stroke="#F8CBAD" stroke-width="0.9"><path d="M834.8,375.8 V389 H856.6 V375.8"/><rect x="834" y="390.2" width="23.6" height="5" rx="2.5"/></g>
<g stroke="#F8CBAD" stroke-width="0.8"><line x1="856.6" y1="379.5" x2="858.8" y2="379.5"/><line x1="856.6" y1="383" x2="858.8" y2="383"/></g>
<text x="345.9" y="166.9" font-family="Liberation Sans" font-weight="bold" font-size="12.4" fill="#fff" textLength="49.9" lengthAdjust="spacingAndGlyphs">ImCloud</text>
</svg>
<div class="t k" style="left:74px;top:24.5px">教育资源共享</div>
<div class="t k" style="left:291px;top:24.5px">教育管理服务</div>
<div class="t k" style="left:513.5px;top:24.5px">教育协同协作</div>
<div class="t k" style="left:737px;top:24.5px">教育优质均衡</div>
<div class="t g" style="left:96px;top:92px">基础数据采集</div>
<div class="t g" style="left:395px;top:92px">数据共享交换</div>
<div class="t g" style="left:689px;top:92px">大数据处理</div>
<div class="t g" style="left:97px;top:152px">智慧校园平台</div>
<div class="t g" style="left:405px;top:152px">智能云管理平台</div>
<div class="t g" style="left:690px;top:152px">区域教育平台</div>
<div class="t h" style="left:91px;top:206px"><span style="letter-spacing:0.7px">IPv6</span><span style="font-size:18.5px">校园网</span></div>
<div class="t h" style="left:368px;top:206px"><span style="letter-spacing:0.7px">IPv6</span><span style="font-size:18.5px">云数据中心</span></div>
<div class="t h" style="left:682px;top:206px"><span style="letter-spacing:0.7px">IPv6</span><span style="font-size:18.5px">城域网</span></div>
<div class="t w" style="left:9px;top:302px">有线网络</div>
<div class="t w" style="left:83px;top:302px">无线网络</div>
<div class="t w" style="left:164.5px;top:301px;font-size:14px">BYOD</div>
<div class="t w" style="left:230.5px;top:301px;font-size:14px;letter-spacing:1px">IoT</div>
<div class="t w" style="left:311px;top:302px">虚拟化</div>
<div class="t w" style="left:380px;top:302px">超融合</div>
<div class="t w" style="left:452px;top:302px">云计算</div>
<div class="t w" style="left:520px;top:302px">云存储</div>
<div class="t w" style="left:598px;top:304.5px">城域互联</div>
<div class="t w" style="left:668px;top:304.5px">远程接入</div>
<div class="t w" style="left:738px;top:304.5px">安全保障</div>
<div class="t w" style="left:807px;top:304.5px">运维管理</div>
<div class="t g" style="left:325px;top:341.5px">基于IPv6<span style="margin-left:2.5px">的</span></div>
<div class="t g" style="left:408px;top:340.5px;font-size:21px">“</div>
<div class="t g" style="left:424px;top:341.5px">万物互联</div>
<div class="t g" style="left:486px;top:340.5px;font-size:21px">”</div>
<div class="t g" style="left:510px;top:341.5px">接入</div>
<div class="t g" style="left:8px;top:373px">教学终端</div>
<div class="t g" style="left:294px;top:373px">管理终端</div>
<div class="t g" style="left:594px;top:373px">IoT及其它终端</div>
</body></html>
